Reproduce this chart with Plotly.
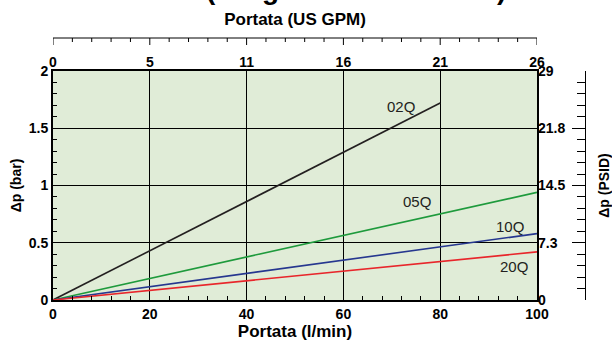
import plotly.graph_objects as go

# ---- data ----
series_names = ["02Q", "05Q", "10Q", "20Q"]
flow_start = [0, 0, 0, 0]            # l/min
flow_end = [80, 100, 100, 100]       # l/min
dp_start = [0, 0, 0, 0]              # bar
dp_end = [1.72, 0.94, 0.58, 0.42]    # bar
series_colors = ["#231f20", "#1e9a3c", "#26378f", "#e8262b"]
label_flow = [71.9, 75.3, 94.4, 95.2]
label_dp = [1.69, 0.86, 0.64, 0.29]

gpm_tickvals = [0, 20, 40, 60, 80, 100]
gpm_ticktext = ["0", "5", "11", "16", "21", "26"]
gpm_minor_step = 4
psi_tickvals = [0, 7.25, 14.5, 21.75, 29]
psi_ticktext = ["0", "7.3", "14.5", "21.8", "29"]
BAR_TO_PSI = 14.5

FONT = "Liberation Sans, Arial, sans-serif"
bold = lambda s: dict(family=FONT, size=s, color="black", weight="bold")
PLOT_BG = "#e0ecd7"

fig = go.Figure()
for name, x0, x1, y0, y1, c in zip(series_names, flow_start, flow_end, dp_start, dp_end, series_colors):
    fig.add_trace(go.Scatter(x=[x0, x1], y=[y0, y1], mode="lines", name=name,
                             line=dict(color=c, width=1.6), showlegend=False,
                             hoverinfo="skip"))
    # same series on the secondary axes (invisible) so that those axes get drawn
    for xa, ya, k in (("x2", "y", 1), ("x", "y2", BAR_TO_PSI), ("x", "y3", 1)):
        fig.add_trace(go.Scatter(x=[x0, x1], y=[y0 * k, y1 * k], mode="lines", xaxis=xa, yaxis=ya,
                                 line=dict(width=0), opacity=0, showlegend=False,
                                 hoverinfo="skip"))

for name, lx, ly in zip(series_names, label_flow, label_dp):
    fig.add_annotation(x=lx, y=ly, xref="x", yref="y", text=name, showarrow=False,
                       font=dict(family=FONT, size=15, color="#231f20"))

W, H = 612, 343
L, R, T, B = 53, 27, 38, 43
plot_right = 537
plot_top = 71
xdom = (plot_right - L) / (W - R - L)
ydom = (H - B - plot_top) / (H - B - T)
paper_h = H - B - T

# plot-area background (below the grid)
fig.add_shape(type="rect", xref="x domain", yref="y domain", x0=0, x1=1, y0=0, y1=1,
              fillcolor=PLOT_BG, line=dict(width=0), layer="below")

# top (US GPM) scale line with its tick marks hanging down
fig.add_shape(type="line", xref="x", yref="paper", x0=gpm_tickvals[0], x1=gpm_tickvals[-1],
              y0=1, y1=1, line=dict(color="black", width=1))
for v in range(gpm_tickvals[0], gpm_tickvals[-1] + 1, gpm_minor_step):
    tick_len = 7 if v in gpm_tickvals else 4
    fig.add_shape(type="line", xref="x", yref="paper", x0=v, x1=v,
                  y0=1, y1=1 - tick_len / paper_h, line=dict(color="black", width=1))

# partially visible heading (cut off at the top of the page)
fig.add_annotation(xref="paper", yref="paper", x=(356 - L) / (W - R - L),
                   y=(H - B - 7) / paper_h, yanchor="bottom", showarrow=False,
                   text="(Programma standard)", font=bold(28))

fig.update_layout(
    width=W, height=H,
    margin=dict(l=L, r=R, t=T, b=B, autoexpand=False),
    paper_bgcolor="white",
    plot_bgcolor="rgba(0,0,0,0)",
    showlegend=False,
    xaxis=dict(domain=[0, xdom], range=[0, 100], anchor="y",
               showline=True, mirror=True, linecolor="black", linewidth=2,
               showgrid=True, gridcolor="black", gridwidth=1.4, dtick=20, tick0=0,
               ticks="inside", ticklen=4, tickcolor="black",
               minor=dict(dtick=4, ticks="inside", ticklen=4, tickcolor="black", showgrid=False),
               zeroline=False, tickfont=bold(14), automargin=False,
               title=dict(text="Portata (l/min)", font=bold(17), standoff=3)),
    yaxis=dict(domain=[0, ydom], range=[0, 2], anchor="x",
               showline=True, mirror=True, linecolor="black", linewidth=2,
               showgrid=True, gridcolor="black", gridwidth=1.4, dtick=0.5, tick0=0,
               ticks="inside", ticklen=4, tickcolor="black",
               minor=dict(dtick=0.1, ticks="inside", ticklen=4, tickcolor="black", showgrid=False),
               zeroline=False, tickfont=bold(14), automargin=False,
               title=dict(text="Δp (bar)", font=bold(14), standoff=4)),
    xaxis2=dict(overlaying="x", anchor="y", side="top", range=[0, 100],
                tickmode="array", tickvals=gpm_tickvals, ticktext=gpm_ticktext,
                ticks="", showline=False, showgrid=False, zeroline=False,
                tickfont=bold(14), automargin=False,
                title=dict(text="Portata (US GPM)", font=bold(17), standoff=24)),
    yaxis2=dict(overlaying="y", anchor="x", side="right", range=[0, 29],
                tickmode="array", tickvals=psi_tickvals, ticktext=psi_ticktext,
                ticks="", showline=False, showgrid=False, zeroline=False,
                tickfont=bold(14), automargin=False),
    yaxis3=dict(overlaying="y", anchor="free", position=1, side="right", range=[0, 2],
                dtick=0.5, tick0=0, ticks="inside", ticklen=13, tickcolor="black",
                minor=dict(dtick=0.1, ticks="inside", ticklen=8, tickcolor="black", showgrid=False),
                showticklabels=False, showline=True, linecolor="black", linewidth=1,
                showgrid=False, zeroline=False, automargin=False,
                title=dict(text="Δp (PSID)", font=bold(14), standoff=14)),
)

fig.write_html("out.html", config={"displayModeBar": False},
               post_script="document.body.style.margin='0';document.body.style.overflow='hidden';")
